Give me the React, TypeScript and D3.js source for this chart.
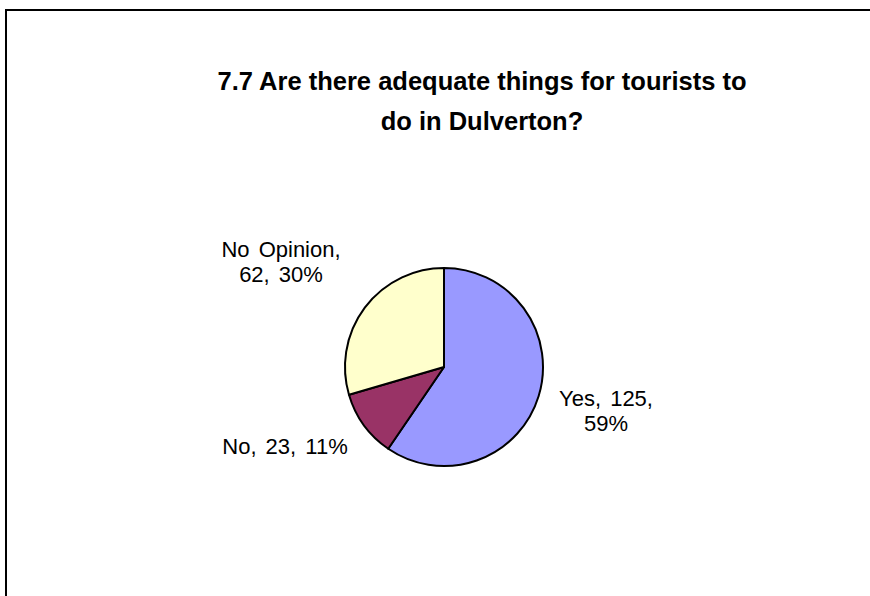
import React from "react";
import * as d3 from "d3";

const categories = ["Yes", "No", "No Opinion"];
const counts = [125, 23, 62];
const percents = ["59%", "11%", "30%"];
const colors = ["#9999ff", "#993366", "#ffffcc"];
const titleLines = ["7.7 Are there adequate things for tourists to", "do in Dulverton?"];

export default function App() {
  const W = 870, H = 596;
  const cx = 444, cy = 367, r = 99;
  const pie = d3.pie<number>().sort(null).value((d) => d);
  const arcs = pie(counts);
  const arcGen = d3.arc<d3.PieArcDatum<number>>().innerRadius(0).outerRadius(r);
  const labelPos = [
    { x: 606, y: 406, lines: [`${categories[0]}, ${counts[0]},`, percents[0]] },
    { x: 285, y: 454, lines: [`${categories[1]}, ${counts[1]}, ${percents[1]}`] },
    { x: 281, y: 257, lines: [`${categories[2]},`, `${counts[2]}, ${percents[2]}`] },
  ];
  return (
    <svg width={W} height={H} style={{ position: "absolute", left: 0, top: 0, display: "block" }}>
      <rect x={0} y={0} width={W} height={H} fill="#fff" />
      <path d={`M6,${H + 5} L6,10 L${W + 5},10`} fill="none" stroke="#000" strokeWidth={2} />
      <g fontFamily="Liberation Sans, Arial, sans-serif" fontWeight="bold" fontSize={25.5} textAnchor="middle">
        {titleLines.map((t, i) => (
          <text key={i} x={482} y={90 + i * 40}>{t}</text>
        ))}
      </g>
      <g transform={`translate(${cx},${cy})`}>
        {arcs.map((a, i) => (
          <path key={i} d={arcGen(a) || ""} fill={colors[i]} stroke="#000" strokeWidth={2} strokeLinejoin="round" />
        ))}
      </g>
      <g fontFamily="Liberation Sans, Arial, sans-serif" fontSize={22} wordSpacing={3} textAnchor="middle" fill="#000">
        {labelPos.map((l, i) =>
          l.lines.map((t, j) => (
            <text key={`${i}-${j}`} x={l.x} y={l.y + j * 25}>{t}</text>
          ))
        )}
      </g>
    </svg>
  );
}
